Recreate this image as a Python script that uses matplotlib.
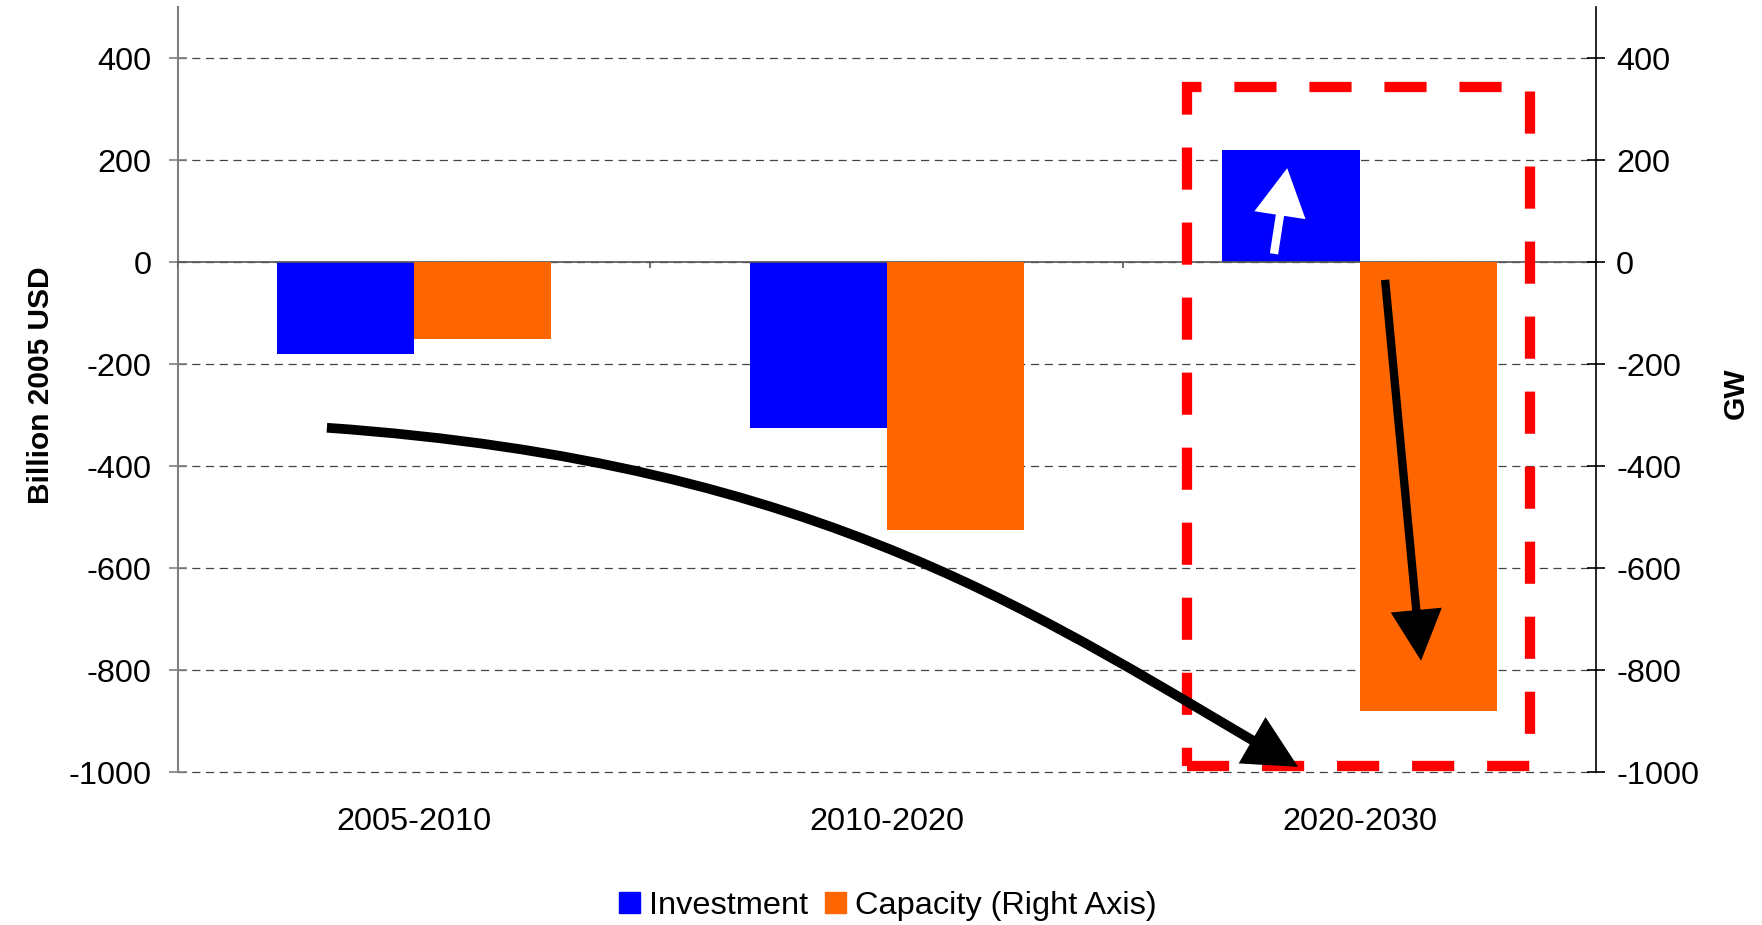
import numpy as np
import matplotlib.pyplot as plt
from matplotlib.patches import Rectangle, FancyArrowPatch, Patch
from matplotlib.path import Path

plt.rcParams['font.family'] = ['Liberation Sans', 'DejaVu Sans']
plt.rcParams['axes.unicode_minus'] = False

periods = ['2005-2010', '2010-2020', '2020-2030']
investment = [-180, -326, 220]      # Billion 2005 USD (left axis)
capacity = [-150, -526, -880]       # GW (right axis)

# annotation geometry (data units)
trend_x = [-0.184, 0.874, 1.341, 1.870]
trend_y = [-325, -394, -706, -990]
up_arrow = [(1.819, 16), (1.847, 184)]
down_arrow = [(2.054, -35), (2.130, -782)]
box_x = [1.636, 2.361]
box_y = [-988, 343]

W, H = 1762, 925
fig = plt.figure(figsize=(W / 100, H / 100), dpi=100)
ax = fig.add_axes([177.5 / W, 1 - 772 / H, (1596 - 177.5) / W, (772 - 7) / H])

fs = 23.4
x = np.arange(len(periods))
w = 0.29
ax.bar(x - w / 2, investment, w, color='#0000ff', zorder=2)
ax.set_xlim(-0.5, len(periods) - 0.5)
ax.set_ylim(-1000, 500)
yt = np.arange(-1000, 401, 200)
ax.set_yticks(yt)
ax.yaxis.grid(True, linestyle=(0, (6.5, 4.5)), color='#444444', lw=0.9)
for gl in ax.get_ygridlines():
    gl.set_clip_on(False)
ax.set_axisbelow(True)
ax.set_xticks(x, periods)
ax.tick_params(axis='x', length=0, pad=25, labelsize=fs)
ax.tick_params(axis='y', direction='inout', length=13, width=1.2, color='#808080',
               pad=12, labelsize=fs)

ax2 = ax.twinx()
ax2.bar(x + w / 2, capacity, w, color='#ff6600', zorder=2)
ax2.set_ylim(-1000, 500)
ax2.set_yticks(yt)
ax2.tick_params(axis='y', direction='inout', length=13, width=1.2, color='black',
                pad=8, labelsize=fs)

for a in (ax, ax2):
    a.spines['top'].set_visible(False)
    a.spines['bottom'].set_visible(False)
ax.spines['right'].set_visible(False)
ax2.spines['left'].set_visible(False)
ax.spines['left'].set_color('#808080')
ax.spines['left'].set_linewidth(1.5)
ax2.spines['right'].set_color('black')
ax2.spines['right'].set_linewidth(1.2)

# category axis crossing at zero
ax2.axhline(0, color='#555555', lw=1.2, zorder=1)
ax2.vlines(np.arange(len(periods) + 1) - 0.5, -12, 0, color='#555555', lw=1.2)

# dashed red highlight box
ax2.add_patch(Rectangle((box_x[0], box_y[0]), box_x[1] - box_x[0], box_y[1] - box_y[0],
                        fill=False, edgecolor='#ff0000', lw=7.4,
                        linestyle=(0, (4.1, 3.2)), zorder=5, clip_on=False))

# curved trend arrow
trend = Path(list(zip(trend_x, trend_y)),
             [Path.MOVETO, Path.CURVE4, Path.CURVE4, Path.CURVE4])
ax2.add_patch(FancyArrowPatch(path=trend, arrowstyle='-|>,head_length=1.35,head_width=0.68',
                              mutation_scale=20, lw=7, color='black', zorder=6,
                              capstyle='butt', joinstyle='miter',
                              transform=ax2.transData))

ax2.annotate('', xy=up_arrow[1], xytext=up_arrow[0],
             arrowprops=dict(arrowstyle='-|>,head_length=1.25,head_width=0.68',
                             mutation_scale=20, lw=6, color='white',
                             capstyle='butt', joinstyle='miter',
                             shrinkA=0, shrinkB=0), zorder=6)
ax2.annotate('', xy=down_arrow[1], xytext=down_arrow[0],
             arrowprops=dict(arrowstyle='-|>,head_length=1.35,head_width=0.68',
                             mutation_scale=20, lw=6, color='black',
                             capstyle='butt', joinstyle='miter',
                             shrinkA=0, shrinkB=0), zorder=6)

fig.text(41 / W, 1 - 385 / H, 'Billion 2005 USD', rotation=90, ha='center', va='center',
         fontsize=21.5, fontweight='bold')
fig.text(1736 / W, 1 - 393 / H, 'GW', rotation=90, ha='center', va='center',
         fontsize=21.5, fontweight='bold')

handles = [Patch(color='#0000ff', label='Investment'),
           Patch(color='#ff6600', label='Capacity (Right Axis)')]
fig.legend(handles=handles, loc='center', bbox_to_anchor=(888 / W, 1 - 906 / H), ncol=2,
           frameon=False, fontsize=fs, handlelength=0.64, handleheight=0.64,
           handletextpad=0.3, columnspacing=0.5, borderpad=0, borderaxespad=0)

fig.savefig('out.png', dpi=100)
